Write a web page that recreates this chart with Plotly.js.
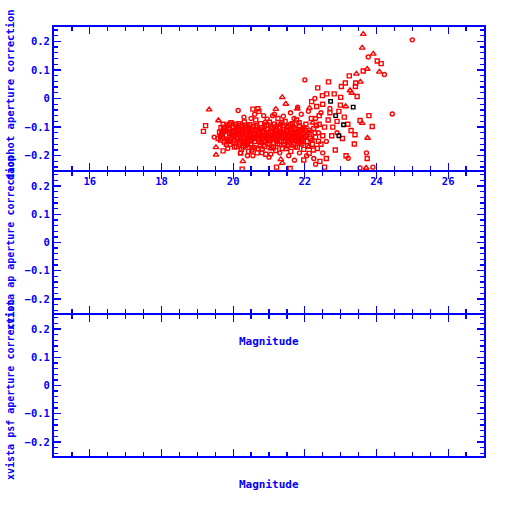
<!DOCTYPE html>
<html>
<head>
<meta charset="utf-8">
<script src="https://cdn.plot.ly/plotly-3.0.1.min.js"></script>
<style>html,body{margin:0;padding:0;background:#fff;}#chart{width:512px;height:512px;}</style>
</head>
<body>
<div id="chart"></div>
<script>
// ---- data ----
const squareMag = [
19.62,19.66,19.70,19.72,19.75,19.78,19.80,19.83,19.85,19.87,19.90,19.92,19.94,19.96,19.98,20.01,20.03,20.05,20.07,20.09,
20.11,20.13,20.15,20.17,20.19,20.21,20.23,20.25,20.27,20.29,20.31,20.33,20.35,20.37,20.39,20.41,20.43,20.45,20.47,20.49,
20.51,20.53,20.55,20.57,20.59,20.61,20.63,20.65,20.67,20.69,20.71,20.73,20.75,20.77,20.79,20.81,20.83,20.85,20.87,20.89,
20.91,20.93,20.95,20.97,20.99,21.01,21.03,21.05,21.07,21.09,21.11,21.13,21.15,21.17,21.19,21.21,21.23,21.25,21.27,21.29,
21.31,21.33,21.35,21.37,21.39,21.41,21.43,21.45,21.47,21.49,21.51,21.53,21.55,21.57,21.59,21.61,21.63,21.65,21.67,21.69,
21.71,21.73,21.75,21.77,21.79,21.81,21.83,21.85,21.87,21.89,21.91,21.94,21.97,22.00,22.03,22.06,22.09,22.12,22.15,22.18,
22.21,22.25,22.30,22.35,22.40,
19.58,19.68,19.76,19.88,19.95,20.02,20.08,20.14,20.20,20.26,20.32,20.38,20.44,20.50,20.56,20.62,20.68,20.74,20.80,20.86,
20.92,20.98,21.04,21.10,21.16,21.22,21.28,21.34,21.40,21.46,21.52,21.58,21.64,21.70,21.76,21.82,21.88,21.95,
19.65,19.73,19.81,19.89,19.97,20.04,20.10,20.16,20.22,20.28,20.34,20.40,20.46,20.52,20.58,20.64,20.70,20.76,20.82,20.88,
20.94,21.00,21.06,21.12,21.18,21.24,21.30,21.36,21.42,21.48,21.54,21.60,21.66,21.72,21.78,21.84,21.90,21.96,22.02,22.08,
22.14,22.24,22.32,22.38,
19.23,19.17,19.72,20.21,20.25,20.55,20.69,20.72,21.21,21.59,21.97,22.19,22.36,22.66,22.49,22.82,23.00,22.61,23.13,23.42,
23.24,24.02,23.63,23.46,23.29,23.88,23.74,23.38,23.40,22.50,22.70,22.90,22.55,22.75,22.45,22.85,22.60,23.10,23.05,22.95,
23.20,22.65,22.40,22.42,22.55,23.15,22.78,22.50,22.33,22.99,23.41,23.02,24.13,23.54,23.79
];
const squareCorr = [
-0.118,-0.102,-0.135,-0.090,-0.152,-0.112,-0.128,-0.095,-0.145,-0.107,-0.122,-0.160,-0.085,-0.138,-0.113,-0.100,-0.148,-0.126,-0.090,-0.168,
-0.117,-0.140,-0.105,-0.155,-0.128,-0.094,-0.178,-0.135,-0.112,-0.150,-0.082,-0.125,-0.165,-0.101,-0.142,-0.118,-0.185,-0.130,-0.092,-0.158,
-0.110,-0.137,-0.172,-0.098,-0.122,-0.150,-0.075,-0.133,-0.190,-0.108,-0.145,-0.120,-0.165,-0.088,-0.138,-0.176,-0.115,-0.150,-0.097,-0.128,
-0.195,-0.140,-0.107,-0.160,-0.122,-0.083,-0.145,-0.118,-0.170,-0.100,-0.133,-0.155,-0.090,-0.125,-0.182,-0.112,-0.142,-0.070,-0.130,-0.162,
-0.104,-0.138,-0.118,-0.175,-0.095,-0.150,-0.125,-0.080,-0.140,-0.110,-0.165,-0.130,-0.098,-0.152,-0.118,-0.185,-0.135,-0.088,-0.122,-0.160,
-0.105,-0.142,-0.128,-0.075,-0.170,-0.115,-0.138,-0.095,-0.155,-0.125,-0.145,-0.108,-0.178,-0.132,-0.090,-0.150,-0.118,-0.192,-0.140,-0.070,
-0.160,-0.105,-0.135,-0.175,-0.060,
-0.140,-0.125,-0.100,-0.150,-0.118,-0.132,-0.108,-0.125,-0.145,-0.100,-0.138,-0.120,-0.150,-0.125,-0.140,-0.110,-0.128,-0.140,-0.102,-0.130,
-0.118,-0.145,-0.128,-0.115,-0.140,-0.125,-0.100,-0.150,-0.120,-0.130,-0.115,-0.138,-0.110,-0.132,-0.118,-0.148,-0.108,-0.125,
-0.145,-0.105,-0.160,-0.090,-0.128,-0.170,-0.135,-0.088,-0.112,-0.170,-0.093,-0.160,-0.115,-0.180,-0.132,-0.095,-0.175,-0.110,-0.128,-0.168,
-0.092,-0.138,-0.105,-0.172,-0.122,-0.158,-0.135,-0.085,-0.108,-0.175,-0.145,-0.092,-0.138,-0.120,-0.150,-0.085,-0.132,-0.150,-0.112,-0.165,
-0.125,-0.180,-0.095,-0.150,
-0.095,-0.115,-0.183,-0.191,-0.247,-0.037,-0.036,-0.045,-0.240,-0.245,-0.215,-0.011,0.037,0.058,0.010,0.016,0.004,0.016,0.054,0.054,
0.079,0.131,0.096,0.007,-0.112,-0.098,-0.210,-0.159,-0.127,-0.020,-0.050,-0.080,-0.100,-0.130,-0.160,-0.180,-0.210,-0.065,-0.140,-0.045,
-0.090,-0.075,-0.090,-0.220,-0.240,-0.200,-0.100,-0.130,-0.028,-0.023,0.042,0.042,0.122,-0.077,-0.060
];
const circleMag = [
19.64,19.74,19.82,19.91,20.00,20.06,20.12,20.18,20.24,20.30,20.36,20.42,20.48,20.54,20.60,20.66,20.72,20.78,20.84,20.90,
20.96,21.02,21.08,21.14,21.20,21.26,21.32,21.38,21.44,21.50,21.56,21.62,21.68,21.74,21.80,21.86,21.92,21.98,22.05,22.12,
22.20,22.28,
20.14,19.47,21.71,20.40,21.00,22.00,25.00,24.44,23.77,23.72,23.54,23.90,24.22,22.28,22.70,22.90,23.21,22.50,21.80,21.10,20.50,
20.30,20.60,20.85,21.15,21.40,21.60,21.90,22.10,22.30,20.20,20.55,20.80,21.05,21.30,21.55,21.85,22.05,22.25,19.85,20.95,
21.70,22.38,22.45,22.60,22.30
];
const circleCorr = [
-0.130,-0.118,-0.142,-0.105,-0.155,-0.115,-0.098,-0.162,-0.120,-0.107,-0.148,-0.095,-0.135,-0.112,-0.170,-0.100,-0.132,-0.155,-0.118,-0.083,
-0.130,-0.160,-0.140,-0.105,-0.150,-0.118,-0.090,-0.135,-0.160,-0.100,-0.125,-0.148,-0.098,-0.170,-0.130,-0.112,-0.160,-0.100,-0.130,-0.110,
-0.145,-0.120,
-0.042,-0.135,-0.216,-0.200,-0.205,0.065,0.205,-0.054,0.145,-0.190,-0.243,-0.240,0.084,0.000,-0.035,-0.120,-0.209,-0.190,-0.030,-0.060,-0.070,
-0.065,-0.055,-0.060,-0.055,-0.062,-0.050,-0.055,-0.045,-0.070,-0.190,-0.200,-0.190,-0.195,-0.190,-0.200,-0.190,-0.200,-0.210,-0.175,-0.072,
-0.070,-0.120,-0.050,-0.150,-0.230
];
const triMag = [
19.33,19.59,19.52,19.52,20.27,21.37,21.47,21.33,21.37,23.63,23.60,23.91,23.74,24.08,23.44,23.55,23.26,23.31,23.14,23.60,
23.75,23.71,22.13,21.79,21.19,
19.70,20.00,20.30,20.60,20.90,21.20,21.50,21.80,22.10,20.45,21.05,21.65,22.22
];
const triCorr = [
-0.039,-0.077,-0.171,-0.197,-0.220,0.004,-0.019,-0.213,-0.226,0.225,0.177,0.156,0.103,0.093,0.086,0.058,0.028,0.019,-0.028,-0.086,
-0.138,-0.243,-0.033,-0.036,-0.037,
-0.110,-0.090,-0.160,-0.125,-0.150,-0.095,-0.140,-0.120,-0.170,-0.105,-0.175,-0.165,-0.085
];
const blackMag  = [22.72, 22.86, 23.08, 22.95, 23.35];
const blackCorr = [-0.010, -0.060, -0.092, -0.130, -0.030];

const xTickVals = [16, 18, 20, 22, 24, 26];
const xTickText = ['16', '18', '20', '22', '24', '26'];
const yTickVals = [-0.2, -0.1, 0, 0.1, 0.2];
const yTickText = ['\u22120.2', '\u22120.1', '0', '0.1', '0.2'];
const panelTitles = ['daophot aperture correction', 'xvista ap aperture correction', 'xvista psf aperture correction'];
const xTitle = 'Magnitude';

// ---- styling ----
const BLUE = '#0000ff';
const RED = '#ff0000';
const FONT = 'DejaVu Sans Mono';

function mk(x, y, symbol, color, size) {
  return {
    type: 'scatter', mode: 'markers', x: x, y: y, xaxis: 'x', yaxis: 'y',
    marker: {symbol: symbol, size: size, color: color, line: {color: color, width: 1.4}},
    hoverinfo: 'skip', showlegend: false
  };
}

const data = [
  mk(squareMag, squareCorr, 'square-open', RED, 4),
  mk(circleMag, circleCorr, 'circle-open', RED, 4),
  mk(triMag, triCorr, 'triangle-up-open', RED, 5),
  mk(blackMag, blackCorr, 'square-open', '#000000', 3.5),
  {type: 'scatter', mode: 'markers', x: [], y: [], xaxis: 'x2', yaxis: 'y2', showlegend: false},
  {type: 'scatter', mode: 'markers', x: [], y: [], xaxis: 'x3', yaxis: 'y3', showlegend: false}
];

const LW = 2;
function xax(anchor, labels) {
  return {
    anchor: anchor, domain: [0, 1], range: [15, 27],
    tickmode: 'array', tickvals: xTickVals, ticktext: xTickText, showticklabels: labels,
    ticks: 'inside', ticklen: 7, tickwidth: 1.3, tickcolor: BLUE,
    minor: {dtick: 0.5, tick0: 15, ticks: 'inside', ticklen: 4, tickwidth: 1.3, tickcolor: BLUE},
    showline: true, linecolor: BLUE, linewidth: LW, mirror: 'ticks',
    showgrid: false, zeroline: false,
    tickfont: {family: FONT, size: 10.5, color: BLUE, weight: 'bold'}
  };
}
function yax(anchor, domain) {
  return {
    anchor: anchor, domain: domain, range: [-0.25, 0.25],
    tickmode: 'array', tickvals: yTickVals, ticktext: yTickText,
    ticks: 'inside', ticklen: 7, tickwidth: 1.3, tickcolor: BLUE,
    minor: {dtick: 0.02, tick0: 0, ticks: 'inside', ticklen: 4, tickwidth: 1.3, tickcolor: BLUE},
    showline: true, linecolor: BLUE, linewidth: LW, mirror: 'ticks',
    showgrid: false, zeroline: false,
    tickfont: {family: FONT, size: 10.5, color: BLUE, weight: 'bold'}
  };
}

const T = 27, B = 456, L = 54, R = 484;
const H = B - T;
const py = p => (B - p) / H;
const px = p => (p - L) / (R - L);

const layout = {
  width: 512, height: 512,
  margin: {l: 54, r: 28, t: 27, b: 56, pad: 0},
  paper_bgcolor: '#ffffff', plot_bgcolor: '#ffffff',
  showlegend: false,
  xaxis: xax('y', true),
  xaxis2: xax('y2', false),
  xaxis3: xax('y3', false),
  yaxis: yax('x', [py(170), 1]),
  yaxis2: yax('x2', [py(313), py(170 + LW)]),
  yaxis3: yax('x3', [0, py(313 + LW)]),
  annotations: [
    {text: panelTitles[0], xref: 'paper', yref: 'paper', x: px(10), y: py(95), textangle: -90, showarrow: false, xanchor: 'center', yanchor: 'middle', font: {family: FONT, size: 10.5, color: BLUE, weight: 'bold'}},
    {text: panelTitles[1], xref: 'paper', yref: 'paper', x: px(10), y: py(243), textangle: -90, showarrow: false, xanchor: 'center', yanchor: 'middle', font: {family: FONT, size: 10, color: BLUE, weight: 'bold'}},
    {text: panelTitles[2], xref: 'paper', yref: 'paper', x: px(10), y: py(390), textangle: -90, showarrow: false, xanchor: 'center', yanchor: 'middle', font: {family: FONT, size: 10, color: BLUE, weight: 'bold'}},
    {text: xTitle, xref: 'paper', yref: 'paper', x: 0.5, y: py(341), showarrow: false, xanchor: 'center', yanchor: 'middle', font: {family: FONT, size: 11, color: BLUE, weight: 'bold'}},
    {text: xTitle, xref: 'paper', yref: 'paper', x: 0.5, y: py(484), showarrow: false, xanchor: 'center', yanchor: 'middle', font: {family: FONT, size: 11, color: BLUE, weight: 'bold'}}
  ]
};

Plotly.newPlot('chart', data, layout, {staticPlot: true, displayModeBar: false});
</script>
</body>
</html>
